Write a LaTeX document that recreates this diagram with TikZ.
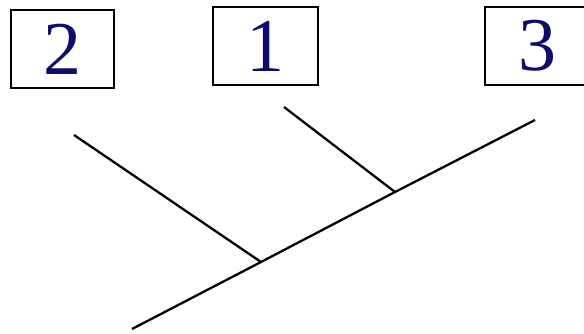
\documentclass[tikz,border=0pt]{standalone}
\usepackage{fontspec}
\setmainfont{Liberation Serif}
\usepackage{tikz}
\definecolor{taxonblue}{rgb}{0.05,0.05,0.42}

\begin{document}
\begin{tikzpicture}[x=1pt, y=-1pt,
    taxon/.style={draw, line width=2.3pt, minimum width=103pt, minimum height=78pt,
      inner sep=0pt, text=taxonblue, font=\fontsize{76}{80}\selectfont},
    branch/.style={line width=2.3pt}]
        \useasboundingbox (0,0) rectangle (584,334);
        \node[taxon] (t2) at (62.5,49) {2};
        \node[taxon, minimum width=105pt] (t1) at (265.5,46) {1};
        \node[taxon, minimum width=104pt] (t3) at (537,46) {3};
        \coordinate (root) at (132,329);
        \coordinate (j2) at (261,262);
        \coordinate (j1) at (395,192);
        \coordinate (tip3) at (535,120);
        \coordinate (tip2) at (74,135);
        \coordinate (tip1) at (284,107);
        \draw[branch] (root)--(j2)--(j1)--(tip3);
        \draw[branch] (tip2)--(j2);
        \draw[branch] (tip1)--(j1);
      \end{tikzpicture}
\end{document}
